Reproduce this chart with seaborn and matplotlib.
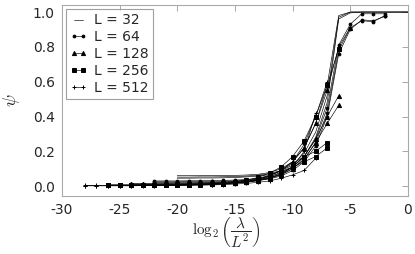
import numpy as np
import pandas as pd
import matplotlib
matplotlib.use("Agg")
import matplotlib.pyplot as plt
import seaborn as sns

# ---- data: psi vs log2(lambda/L^2), several runs per system size L ----
L_values = [32, 64, 128, 256, 512]
x_start = {32: -20, 64: -22, 128: -24, 256: -26, 512: -28}

psi_L32 = [
    [0.060, 0.060, 0.060, 0.061, 0.061, 0.062, 0.064, 0.068, 0.078, 0.10, 0.14, 0.22, 0.36, 0.58, 0.98, 1.0, 1.0, 1.0, 1.0, 1.0, 1.0],
    [0.052, 0.052, 0.053, 0.053, 0.054, 0.055, 0.058, 0.063, 0.072, 0.09, 0.12, 0.19, 0.31, 0.52, 0.97, 1.0, 1.0, 1.0, 1.0, 1.0, 1.0],
    [0.046, 0.046, 0.047, 0.047, 0.048, 0.050, 0.053, 0.058, 0.066, 0.085, 0.11, 0.17, 0.28, 0.48, 0.96, 0.995, 1.0, 1.0, 1.0, 1.0, 1.0],
]
psi_L64 = [
    [0.030, 0.030, 0.030, 0.031, 0.031, 0.032, 0.033, 0.035, 0.038, 0.044, 0.055, 0.075, 0.11, 0.17, 0.27, 0.45, 0.81, 0.93, 0.99, 0.99, 0.99],
    [0.025, 0.025, 0.025, 0.026, 0.026, 0.027, 0.028, 0.030, 0.033, 0.038, 0.048, 0.066, 0.10, 0.155, 0.25, 0.42, 0.78, 0.91, 0.95, 0.945, 0.98],
    [0.020, 0.020, 0.021, 0.021, 0.022, 0.022, 0.023, 0.025, 0.028, 0.033, 0.042, 0.058, 0.09, 0.14, 0.23, 0.40, 0.76, 0.90, 0.955, 0.95, 0.975],
]
psi_L128 = [
    [0.012, 0.012, 0.012, 0.013, 0.013, 0.014, 0.015, 0.016, 0.018, 0.021, 0.026, 0.034, 0.048, 0.07, 0.11, 0.17, 0.27, 0.40, 0.52],
    [0.010, 0.010, 0.010, 0.011, 0.011, 0.012, 0.013, 0.014, 0.016, 0.019, 0.024, 0.031, 0.044, 0.065, 0.10, 0.155, 0.25, 0.36, 0.465],
    [0.015, 0.015, 0.015, 0.016, 0.016, 0.017, 0.018, 0.020, 0.023, 0.027, 0.034, 0.045, 0.062, 0.09, 0.14, 0.22, 0.36, 0.55, 0.80, 0.91],
]
psi_L256 = [
    [0.006, 0.006, 0.006, 0.006, 0.007, 0.007, 0.008, 0.009, 0.010, 0.012, 0.015, 0.020, 0.028, 0.04, 0.06, 0.09, 0.13, 0.17, 0.20, 0.25],
    [0.005, 0.005, 0.005, 0.005, 0.006, 0.006, 0.007, 0.008, 0.009, 0.011, 0.014, 0.018, 0.025, 0.036, 0.055, 0.08, 0.11, 0.14, 0.17, 0.22],
    [0.008, 0.008, 0.008, 0.008, 0.009, 0.009, 0.010, 0.011, 0.013, 0.015, 0.019, 0.025, 0.035, 0.05, 0.075, 0.11, 0.17, 0.26, 0.40, 0.58, 0.79],
]
psi_L512 = [
    [0.003, 0.003, 0.003, 0.003, 0.003, 0.004, 0.004, 0.005, 0.005, 0.006, 0.007, 0.009, 0.012, 0.016, 0.022, 0.032, 0.047, 0.07, 0.11, 0.20, 0.42],
    [0.002, 0.002, 0.002, 0.002, 0.002, 0.003, 0.003, 0.004, 0.004, 0.005, 0.006, 0.007, 0.009, 0.012, 0.016, 0.022, 0.030, 0.045, 0.065, 0.09, 0.16],
    [0.004, 0.004, 0.004, 0.004, 0.004, 0.005, 0.005, 0.006, 0.006, 0.007, 0.009, 0.011, 0.015, 0.020, 0.028, 0.04, 0.06, 0.09, 0.14, 0.24, 0.40, 0.60],
]
psi_runs = {32: psi_L32, 64: psi_L64, 128: psi_L128, 256: psi_L256, 512: psi_L512}

rows = []
for L in L_values:
    for r, vals in enumerate(psi_runs[L]):
        for i, v in enumerate(vals):
            rows.append({"L": L, "run": r, "x": x_start[L] + i, "psi": v})
df = pd.DataFrame(rows)

# ---- style ----
sns.set_style("white")
plt.rcParams["font.family"] = ["DejaVu Sans"]
plt.rcParams["mathtext.fontset"] = "cm"

markers = {32: "", 64: "o", 128: "^", 256: "s", 512: "+"}
msizes = {32: 0, 64: 2.0, 128: 3.0, 256: 3.2, 512: 3.5}

fig = plt.figure(figsize=(4.15, 2.54), dpi=100)
ax = fig.add_axes([0.149, 0.228, 0.834, 0.752])

for L in L_values:
    sub = df[df["L"] == L]
    for r in sorted(sub["run"].unique()):
        d = sub[sub["run"] == r]
        sns.lineplot(data=d, x="x", y="psi", ax=ax, color="black", lw=0.45,
                     marker=markers[L] if markers[L] else None,
                     markersize=msizes[L], markeredgewidth=0.7,
                     markeredgecolor="black", estimator=None, sort=False,
                     label=f"L = {L}" if r == 0 else None, legend=False)

ax.set_xlim(-30, 0)
ax.set_ylim(-0.057, 1.04)
ax.set_xticks([-30, -25, -20, -15, -10, -5, 0])
ax.set_xticklabels(["-30", "-25", "-20", "-15", "-10", "-5", "0"])
ax.set_yticks([0.0, 0.2, 0.4, 0.6, 0.8, 1.0])
ax.tick_params(axis="both", direction="in", length=4, width=0.6, color="#999999",
               labelsize=10, top=True, right=True, pad=5)
for s in ax.spines.values():
    s.set_color("#aaaaaa")
    s.set_linewidth(0.8)

ax.set_xlabel(r"$\log_2\left(\dfrac{\lambda}{L^2}\right)$", fontsize=11)
ax.xaxis.set_label_coords(0.474, -0.105, transform=ax.transAxes)
ax.xaxis.label.set_va("top")
ax.set_ylabel(r"$\psi$", fontsize=13, labelpad=8)

leg = ax.legend(loc="upper left", fontsize=10, handlelength=1.2, handletextpad=0.5,
                labelspacing=0.2, borderpad=0.3, borderaxespad=0.3, numpoints=2,
                fancybox=False, frameon=True)
leg.get_frame().set_edgecolor("#888888")
leg.get_frame().set_linewidth(0.8)

fig.savefig("out.png", dpi=100)
